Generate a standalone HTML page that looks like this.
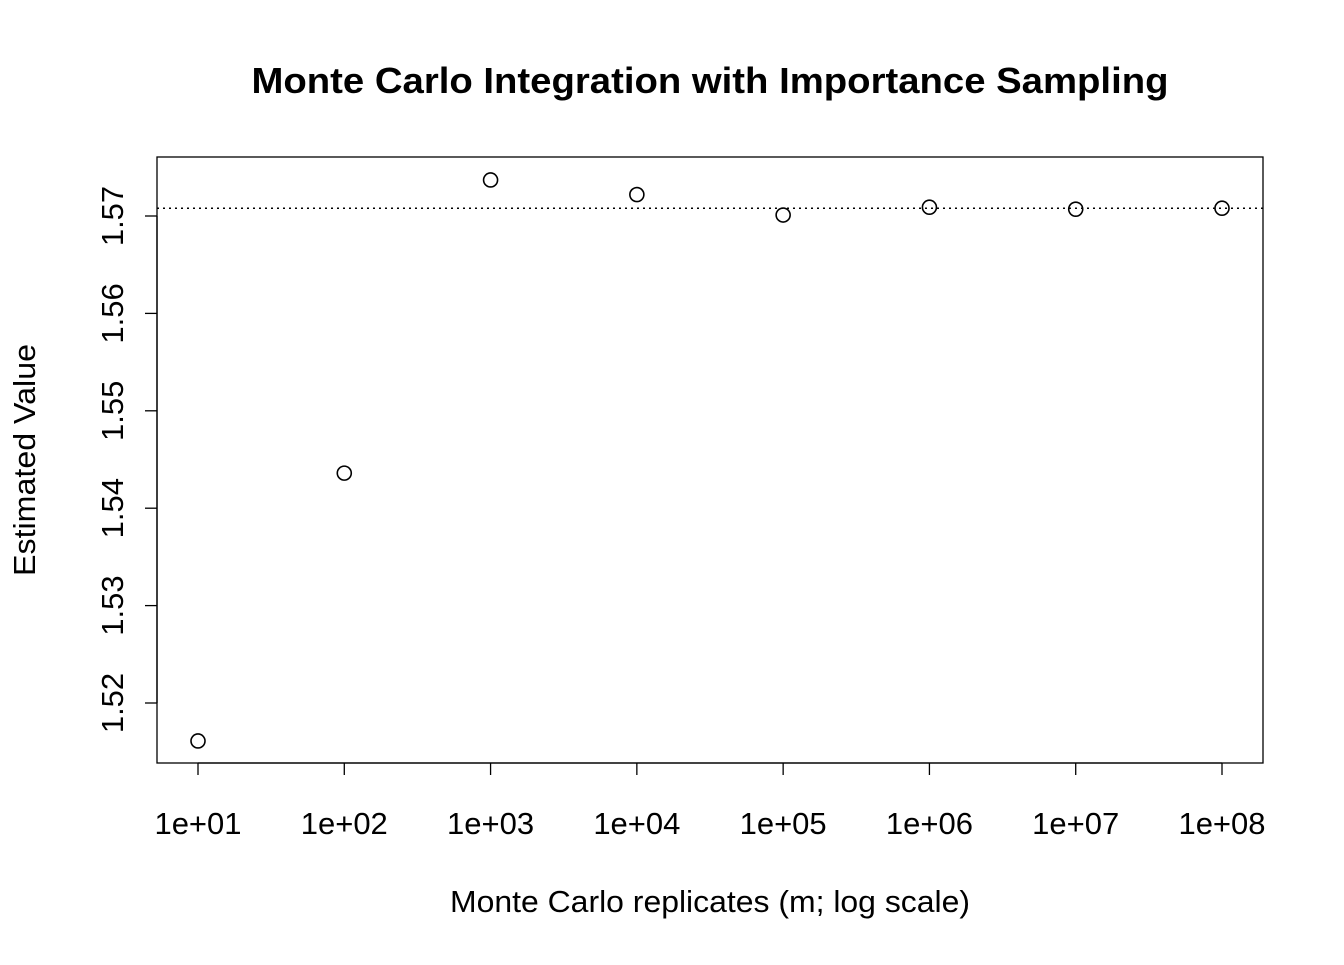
<!DOCTYPE html>
<html><head><meta charset="utf-8"><style>
body{margin:0;background:#fff}
svg text{font-family:"Liberation Sans",Arial,sans-serif;fill:#000}
</style></head><body>
<svg width="1344" height="960" xmlns="http://www.w3.org/2000/svg">
<text x="710" y="93" font-size="36" font-weight="bold" text-anchor="middle" textLength="917" lengthAdjust="spacingAndGlyphs">Monte Carlo Integration with Importance Sampling</text>
<rect x="157" y="157" width="1106" height="606" fill="none" stroke="#000" stroke-width="1.3"/>
<text x="710" y="912" font-size="31" text-anchor="middle" textLength="520" lengthAdjust="spacingAndGlyphs">Monte Carlo replicates (m; log scale)</text>
<text transform="translate(35,460) rotate(-90)" font-size="31" text-anchor="middle" textLength="232" lengthAdjust="spacingAndGlyphs">Estimated Value</text>
<g id="axes"></g><g id="marks"></g>
</svg>
<script>
const exponents=[1,2,3,4,5,6,7,8];
const estimates=[1.5161,1.5436,1.5737,1.5722,1.5701,1.5709,1.5707,1.5708];
const yTicks=[1.52,1.53,1.54,1.55,1.56,1.57];
const xTickLabels=["1e+01","1e+02","1e+03","1e+04","1e+05","1e+06","1e+07","1e+08"];
const trueValue=Math.PI/2;
const NS="http://www.w3.org/2000/svg";
const xs=e=>198+(e-1)*(1222-198)/7;
const ys=v=>703-(v-1.52)*(703-216)/0.05;
const axes=document.getElementById('axes'),marks=document.getElementById('marks');
function mk(t,a,p){const el=document.createElementNS(NS,t);for(const k in a)el.setAttribute(k,a[k]);p.appendChild(el);return el;}
exponents.forEach((e,i)=>{
 const l=mk('line',{x1:xs(e),x2:xs(e),y1:763,y2:775,stroke:'#000','stroke-width':1.3},axes);
 
 
 const t=mk('text',{x:xs(e),y:834,'font-size':31,'text-anchor':'middle'},axes);t.textContent=xTickLabels[i];
 
 
});
const xl=mk('line',{x1:xs(1),x2:xs(8),y1:763,y2:763,stroke:'#000','stroke-width':1.3},axes);


yTicks.forEach(v=>{
 const l=mk('line',{x1:145,x2:157,y1:ys(v),y2:ys(v),stroke:'#000','stroke-width':1.3},axes);
 
 
 const t=mk('text',{x:0,y:0,'font-size':31,'text-anchor':'middle',transform:`translate(123,${ys(v)}) rotate(-90)`},axes);t.textContent=v.toFixed(2);
 
 
});
const yl=mk('line',{x1:157,x2:157,y1:ys(1.52),y2:ys(1.57),stroke:'#000','stroke-width':1.3},axes);


const ref=mk('line',{x1:157,x2:1263,y1:ys(trueValue),y2:ys(trueValue),stroke:'#000','stroke-width':1.5,'stroke-dasharray':'2,4'},marks);


exponents.forEach((e,i)=>{
 const c=mk('circle',{cx:xs(e),cy:ys(estimates[i]),r:7,fill:'none',stroke:'#000','stroke-width':1.6},marks);
 
 
});
</script>
</body></html>
